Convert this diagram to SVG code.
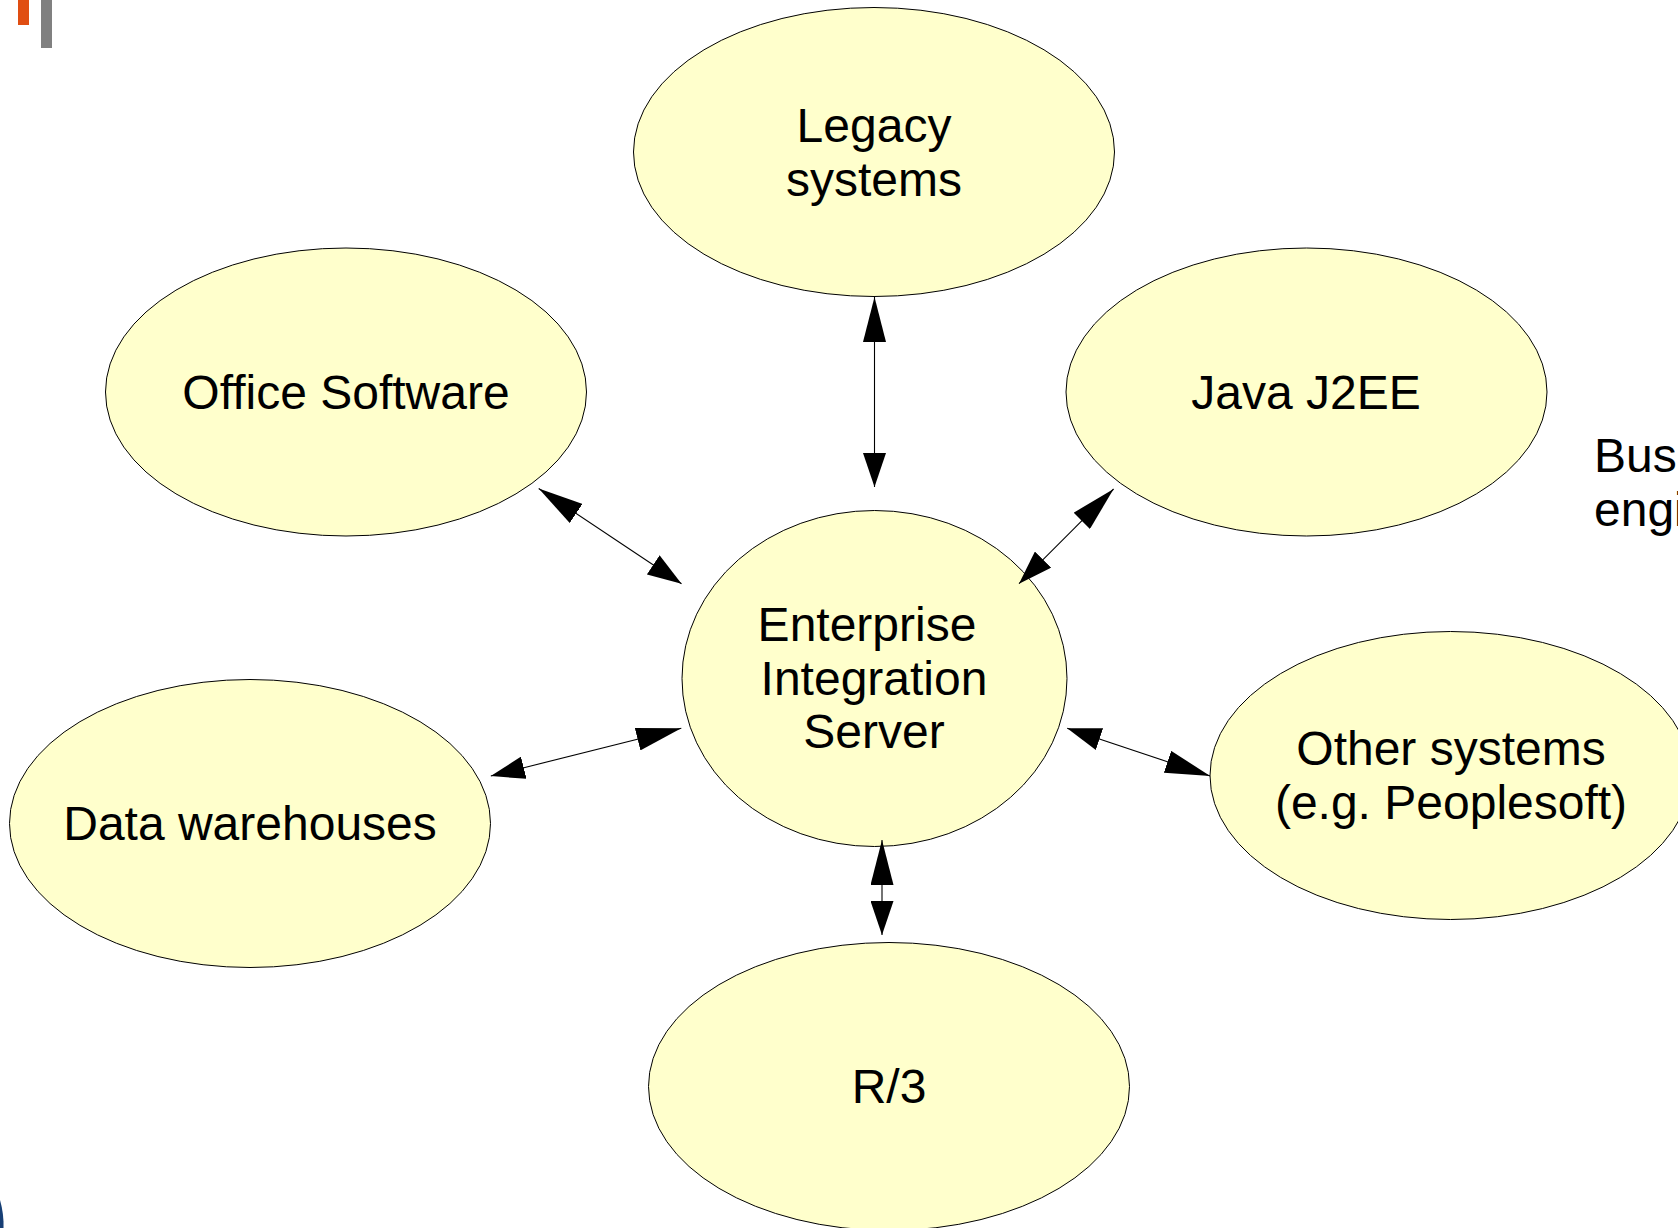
<svg xmlns="http://www.w3.org/2000/svg" width="1678" height="1228" viewBox="0 0 1678 1228">
<style>
.n{fill:#ffffcc;stroke:#000;stroke-width:1}
.t{font-family:"Liberation Sans",Arial,sans-serif;font-size:48px;fill:#000;text-anchor:middle}
.s{text-anchor:start}
.c line{stroke:#000;stroke-width:1.1;marker-start:url(#long);marker-end:url(#short)}
</style>
<defs>
<marker id="long" markerUnits="userSpaceOnUse" viewBox="0 0 45 23" refX="45" refY="11.5" markerWidth="45" markerHeight="23" orient="auto-start-reverse"><path d="M0 0L45 11.5L0 23Z" fill="#000"/></marker>
<marker id="short" markerUnits="userSpaceOnUse" viewBox="0 0 34 23" refX="34" refY="11.5" markerWidth="34" markerHeight="23" orient="auto"><path d="M0 0L34 11.5L0 23Z" fill="#000"/></marker>
</defs>
<rect width="1678" height="1228" fill="#fff"/>
<rect x="18" y="0" width="11" height="25" fill="#e04e12"/>
<rect x="41" y="0" width="11" height="48" fill="#808080"/>
<path d="M0 1200Q4 1214 3.5 1228L0 1228Z" fill="#173f75"/>
<g id="legacy"><ellipse class="n" cx="874" cy="152" rx="240.5" ry="144.5"/><text class="t" x="874" y="142">Legacy</text><text class="t" x="874" y="196">systems</text></g>
<g id="office"><ellipse class="n" cx="346" cy="392" rx="240.5" ry="144"/><text class="t" x="346" y="409">Office Software</text></g>
<g id="java"><ellipse class="n" cx="1306.5" cy="392" rx="240.5" ry="144"/><text class="t" x="1306" y="409">Java J2EE</text></g>
<g id="server"><ellipse class="n" cx="874.5" cy="678.5" rx="192.5" ry="168"/><text class="t" x="867" y="641">Enterprise</text><text class="t" x="874" y="695">Integration</text><text class="t" x="874" y="748">Server</text></g>
<g id="warehouses"><ellipse class="n" cx="250" cy="823.5" rx="240.5" ry="144"/><text class="t" x="250" y="840">Data warehouses</text></g>
<g id="other"><ellipse class="n" cx="1450.5" cy="775.5" rx="240.5" ry="144"/><text class="t" x="1451" y="765">Other systems</text><text class="t" x="1451" y="819">(e.g. Peoplesoft)</text></g>
<g id="r3"><ellipse class="n" cx="889" cy="1086.5" rx="240.5" ry="144"/><text class="t" x="889" y="1103">R/3</text></g>
<g id="business"><text class="t s" x="1594" y="471.5">Bus</text><text class="t s" x="1594" y="525.5">engi</text></g>
<g id="connectors" class="c">
<line x1="874.5" y1="297" x2="874.5" y2="487"/>
<line x1="538.7" y1="488.5" x2="681.5" y2="583.7"/>
<line x1="1113.6" y1="489" x2="1019" y2="583.7"/>
<line x1="681.3" y1="728.3" x2="490.8" y2="776"/>
<line x1="1210.2" y1="776" x2="1067.2" y2="728.3"/>
<line x1="882" y1="840" x2="882" y2="935"/>
</g>
</svg>
